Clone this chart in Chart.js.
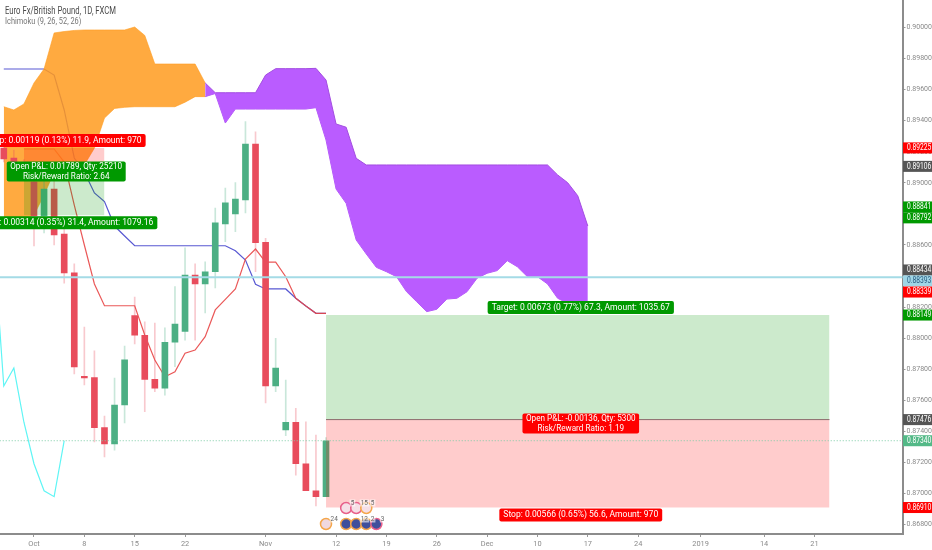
<!DOCTYPE html>
<html><head><meta charset="utf-8">
<style>html,body{margin:0;padding:0;background:#fff}canvas{display:block}</style>
<script src="https://cdn.jsdelivr.net/npm/chart.js@4"></script>
</head><body><canvas id="c" width="932" height="550"></canvas>
<script>
// candles: first bar index, then open/high/low/close
const candleStart = -3;
const opens  = [.89224,.89160,.89130,.89006,.88787,.88960,.88671,.88420,.87755,.87746,.87424,.87319,.87570,.88145,.88019,.87735,.87678,.87974,.88044,.88407,.88349,.88428,.88735,.88800,.88890,.89250,.88617,.87692,.87409,.87459,.87192,.87018,.86980];
const highs  = [.89257,.89211,.89150,.89083,.89031,.89031,.88729,.88478,.88072,.87918,.87499,.87744,.87950,.88265,.88106,.88098,.88066,.88332,.88581,.88478,.88492,.88838,.88967,.89001,.89394,.89329,.88643,.87999,.87731,.87549,.87462,.87377,.87360];
const lows   = [.89134,.89083,.89050,.88594,.88677,.88600,.88355,.87770,.87699,.87332,.87235,.87280,.87454,.87963,.87527,.87656,.87634,.87817,.87988,.87988,.88162,.88323,.88621,.88686,.88806,.88428,.87583,.87656,.87372,.87119,.87018,.86920,.86980];
const closes = [.89154,.89134,.89100,.88787,.88960,.88664,.88420,.87815,.87745,.87424,.87319,.87570,.87860,.88019,.87735,.87678,.87974,.88091,.88407,.88349,.88428,.88742,.88872,.88896,.89250,.88615,.87692,.87808,.87459,.87192,.87018,.86980,.87340];
// Ichimoku
const tenkanStart = -1;
const tenkan = [.89218,.89218,.89218,.89218,.89134,.88857,.88600,.88349,.88209,.88209,.88209,.88209,.88021,.87860,.87752,.87784,.87903,.87924,.88010,.88182,.88250,.88317,.88510,.88574,.88490,.88490,.88396,.88257,.88207,.88160,.88160];
const kijunStart = -3;
const kijun = [.89733,.89733,.89733,.89733,.89733,.89694,.89469,.89160,.89070,.88935,.88879,.88722,.88658,.88595,.88595,.88595,.88595,.88595,.88595,.88595,.88595,.88595,.88595,.88563,.88503,.88347,.88317,.88317,.88317,.88257,.88207,.88160,.88160];
const chikouStart = -4;
const chikou = [.88615,.87692,.87808,.87459,.87192,.87018,.86980,.87340];
const orangeStart = -3;
const orangeUpper = [.89490,.89469,.89508,.89643,.89733,.89965,.89974,.89981,.89984,.89984,.89984,.89984,.89984,.90003,.89949,.89765,.89765,.89765,.89765,.89765,.89643];
const orangeLower = [.88767,.88767,.88767,.88793,.88922,.89070,.89083,.89096,.89115,.89224,.89417,.89479,.89486,.89490,.89490,.89490,.89490,.89490,.89519,.89555,.89555];
const purpleStart = 17;
const purpleUpper = [.89643,.89580,.89580,.89580,.89580,.89580,.89694,.89735,.89735,.89735,.89735,.89737,.89662,.89379,.89358,.89158,.89115,.89115,.89115,.89115,.89115,.89115,.89115,.89115,.89115,.89115,.89115,.89115,.89115,.89115,.89115,.89115,.89115,.89115,.89115,.89051,.89001,.88917,.88722];
const purpleLower = [.89555,.89575,.89385,.89475,.89475,.89475,.89475,.89475,.89475,.89475,.89475,.89484,.89276,.88960,.88868,.88632,.88542,.88456,.88428,.88396,.88299,.88235,.88171,.88186,.88252,.88257,.88299,.88386,.88418,.88435,.88499,.88460,.88396,.88396,.88349,.88257,.88225,.88214,.88214];
// price levels
const hLineBlue = 0.88393, hLineLast = 0.87340;
// positions
const shortFrom = -1, shortTo = 7, shortEntry = .89106, shortStop = .89225, shortTarget = .88792;
const longFrom = 29, longTo = 79, longEntry = .87476, longStop = .86910, longTarget = .88149;
// axes
const xTickIdx = [0,5,10,15,23,30,35,40,45,50,55,60,66.2,72.5,77.5];
const xTickText = ['Oct','8','15','22','Nov','12','19','26','Dec','10','17','24','2019','14','21'];
const yTicks = [.868,.870,.872,.874,.876,.878,.880,.882,.884,.886,.888,.890,.892,.894,.896,.898,.900];
const tagValues = [.89225,.89106,.88841,.88792,.88434,.88393,.88339,.88149,.87476,.87340,.86910];
const tagShift = [0,0,-.6,2.7,-.8,3.8,6.5,0,0,0,0];
const tagFills = ['#ff0000','#555555','#009900','#009900','#555555','#9fd6e6','#ff0000','#009900','#555555','#53b987','#ff0000'];
const tagInk = ['#fff','#fff','#fff','#fff','#fff','#2a5a80','#fff','#fff','#fff','#fff','#fff'];
// event markers
const evTopIdx = [31,32,33], evTopPrice = [.86907,.86907,.86907], evTopCount = ['5','15','5'];
const evBotIdx = [29,31,32,33,34], evBotPrice = [.86804,.86804,.86804,.86804,.86804], evBotCount = ['24','','12','2','3'];
// text
const titleText = 'Euro Fx/British Pound, 1D, FXCM', studyText = 'Ichimoku (9, 26, 52, 26)';
const boxes = [
 {i:3,    p:.89225, up:true,  c:'#ff0000', t:['Stop: 0.00119 (0.13%) 11.9, Amount: 970']},
 {i:3.2,  p:.89106, mid:true, c:'#009900', t:['Open P&L: 0.01789, Qty: 25210','Risk/Reward Ratio: 2.64']},
 {i:3,    p:.88792, c:'#009900', t:['Target: 0.00314 (0.35%) 31.4, Amount: 1079.16']},
 {i:54.3, p:.88149, up:true,  c:'#009900', t:['Target: 0.00673 (0.77%) 67.3, Amount: 1035.67']},
 {i:54.3, p:.87476, mid:true, c:'#ff0000', t:['Open P&L: -0.00136, Qty: 5300','Risk/Reward Ratio: 1.19']},
 {i:54.3, p:.86910, c:'#ff0000', t:['Stop: 0.00566 (0.65%) 56.6, Amount: 970']}
];

const pts = (start, arr) => arr.map((v, k) => ({x: start + k, y: v}));
const up = closes.map((c, k) => c >= opens[k]);
const bodyCol = up.map(u => u ? '#4caf84' : '#e84c5c');
const wickCol = up.map(u => u ? 'rgba(76,175,132,.3)' : 'rgba(232,76,92,.3)');
const bodies = opens.map((o, k) => ({x: candleStart + k, y: [o, closes[k]]}));
const wicks = highs.map((h, k) => ({x: candleStart + k, y: [lows[k], h]}));
const lineCfg = (data, color, w, order, extra) => Object.assign({type:'line', data, borderColor:color, borderWidth:w, pointRadius:0, tension:0, fill:false, order}, extra||{});
const zone = (a, b, top, base, fillCol, order) => ({type:'line', data:[{x:a,y:top},{x:b,y:top}], borderWidth:0, borderColor:'transparent', pointRadius:0, fill:{value:base}, backgroundColor:fillCol, order});
const red = 'rgba(255,0,0,.2)', green = 'rgba(0,150,0,.2)';

function squeezed(ctx, s, px, py, sx){
  ctx.save(); ctx.translate(px,py); ctx.scale(sx,1); ctx.fillText(s,0,0); ctx.restore();
}
const overlay = {
 id:'overlay',
 afterDraw(chart){
  const {ctx, scales:{x, y}} = chart;
  ctx.save();
  ctx.textBaseline='middle'; ctx.textAlign='center';
  ctx.font='9.6px Roboto';
  boxes.forEach(b=>{
    const lh=9.5, h=b.t.length>1?20:13;
    const bx=b.mid?.85:.89;
    const w=Math.max(...b.t.map(s=>ctx.measureText(s).width))*bx+(b.mid?7:8);
    const cx=x.getPixelForValue(b.i);
    const py=y.getPixelForValue(b.p);
    const ty=b.up? py-h-1 : b.mid ? py-h/2+(b.i<10?5:4) : py+1;
    ctx.fillStyle=b.c; ctx.beginPath(); ctx.roundRect(cx-w/2,ty,w,h,2); ctx.fill();
    ctx.fillStyle='#fff';
    b.t.forEach((s,k)=>squeezed(ctx,s,cx,ty+(h-b.t.length*lh)/2+lh*k+lh/2,bx));
  });
  // event counts
  ctx.font='7.6px Roboto'; ctx.textAlign='left';
  const counts=(ix,pr,ct)=>ix.forEach((v,k)=>{ if(!ct[k])return;
    const px=x.getPixelForValue(v)+3.5, py=y.getPixelForValue(pr[k])-5;
    const w=ctx.measureText(ct[k]).width*.85+2;
    ctx.fillStyle='rgba(255,255,255,.6)'; ctx.fillRect(px,py-3.5,w,7);
    ctx.fillStyle='#666'; squeezed(ctx,ct[k],px+1,py,.85);
  });
  counts(evTopIdx,evTopPrice,evTopCount); counts(evBotIdx,evBotPrice,evBotCount);
  // price tags
  ctx.font='8.6px Roboto'; ctx.textAlign='left';
  tagValues.forEach((v,k)=>{
    const py=y.getPixelForValue(v)+tagShift[k];
    ctx.fillStyle=tagFills[k]; ctx.fillRect(x.right+.5,py-5.5,30,11);
    ctx.fillStyle=tagInk[k]; squeezed(ctx,v.toFixed(5),x.right+4.5,py,.78);
  });
  // header
  ctx.fillStyle='#4a4a4a'; ctx.font='10px Roboto'; squeezed(ctx,titleText,5,11,.77);
  ctx.fillStyle='#777'; ctx.font='9.5px Roboto'; squeezed(ctx,studyText,5,22,.78);
  ctx.restore();
 }
};

new Chart(document.getElementById('c'),{
 type:'bar',
 data:{datasets:[
  lineCfg(pts(tenkanStart,tenkan),'rgba(232,70,70,.9)',1.2,10),
  lineCfg(pts(kijunStart,kijun),'rgba(70,70,205,.9)',1.2,11),
  lineCfg(pts(chikouStart,chikou),'#5ff5f5',1.2,12),
  zone(shortFrom,shortTo,shortStop,shortEntry,red,2),
  zone(shortFrom,shortTo,shortEntry,shortTarget,green,3),
  zone(longFrom,longTo,longTarget,longEntry,green,4),
  zone(longFrom,longTo,longEntry,longStop,red,5),
  lineCfg([{x:longFrom,y:longEntry},{x:longTo,y:longEntry}],'#8a6a6a',1,1),
  {type:'bar',data:bodies,backgroundColor:bodyCol,barThickness:6,grouped:false,order:6},
  {type:'bar',data:wicks,backgroundColor:wickCol,barThickness:1,grouped:false,order:7},
  lineCfg([{x:-4,y:hLineBlue},{x:87,y:hLineBlue}],'#a4dbe6',2,1.5),
  lineCfg([{x:-4,y:hLineLast},{x:87,y:hLineLast}],'#7ccba6',1,1.5,{borderDash:[1,2]}),
  lineCfg(pts(orangeStart,orangeUpper),'rgba(255,155,30,.6)',1,8,{fill:'+1',backgroundColor:'rgba(255,155,30,.85)'}),
  lineCfg(pts(orangeStart,orangeLower),'rgba(255,155,30,.6)',1,8),
  lineCfg(pts(purpleStart,purpleUpper),'#a24de0',1,9,{fill:'+1',backgroundColor:'#ba5cff'}),
  lineCfg(pts(purpleStart,purpleLower),'#b25af5',1,9),
  {type:'line',data:evTopIdx.map((v,k)=>({x:v,y:evTopPrice[k]})),showLine:false,pointRadius:5.5,pointBorderWidth:1.5,
   pointBackgroundColor:'#f6dfe6',pointBorderColor:['#e8608a','#e8608a','#f5a64a'],order:0},
  {type:'line',data:evBotIdx.map((v,k)=>({x:v,y:evBotPrice[k]})),showLine:false,pointRadius:5.5,pointBorderWidth:1.5,
   pointBackgroundColor:['#f0d8e0','#3f4f9c','#3f4f9c','#3f4f9c','#3f4f9c'],pointBorderColor:['#f5a64a','#f5a64a','#f5a64a','#f5a64a','#e8608a'],order:0}
 ]},
 options:{
  responsive:false, animation:false, events:[],
  layout:{padding:0,autoPadding:false},
  plugins:{legend:{display:false},tooltip:{enabled:false},title:{display:false}},
  scales:{
   x:{type:'linear',offset:false,min:-3.376,max:86.25,
      grid:{drawOnChartArea:false,offset:false,tickLength:3,color:'#999'},
      border:{color:'#8c8c8c',width:2},
      afterBuildTicks(s){s.ticks=xTickIdx.map(v=>({value:v}));},
      ticks:{autoSkip:false,maxRotation:0,padding:3,color:'#8a8a8a',font:{family:'Roboto',size:7.4},
        callback(v){const k=xTickIdx.indexOf(v);return k<0?'':xTickText[k];}},
      afterFit(s){s.height=16;s.paddingLeft=0;s.paddingRight=0;s.paddingTop=0;s.paddingBottom=0;}},
   y:{type:'linear',position:'right',min:.867396,max:.90177,
      grid:{drawOnChartArea:false,tickLength:3,color:'#999'},
      border:{color:'#8c8c8c',width:2},
      afterBuildTicks(s){s.ticks=yTicks.map(v=>({value:v}));},
      ticks:{padding:1,color:'#8a8a8a',font:{family:'Roboto',size:7},callback(v){return v.toFixed(5);}},
      afterFit(s){s.width=29.5;s.paddingLeft=0;s.paddingRight=0;s.paddingTop=0;s.paddingBottom=0;}}
  }
 },
 plugins:[overlay]
});
</script></body></html>
